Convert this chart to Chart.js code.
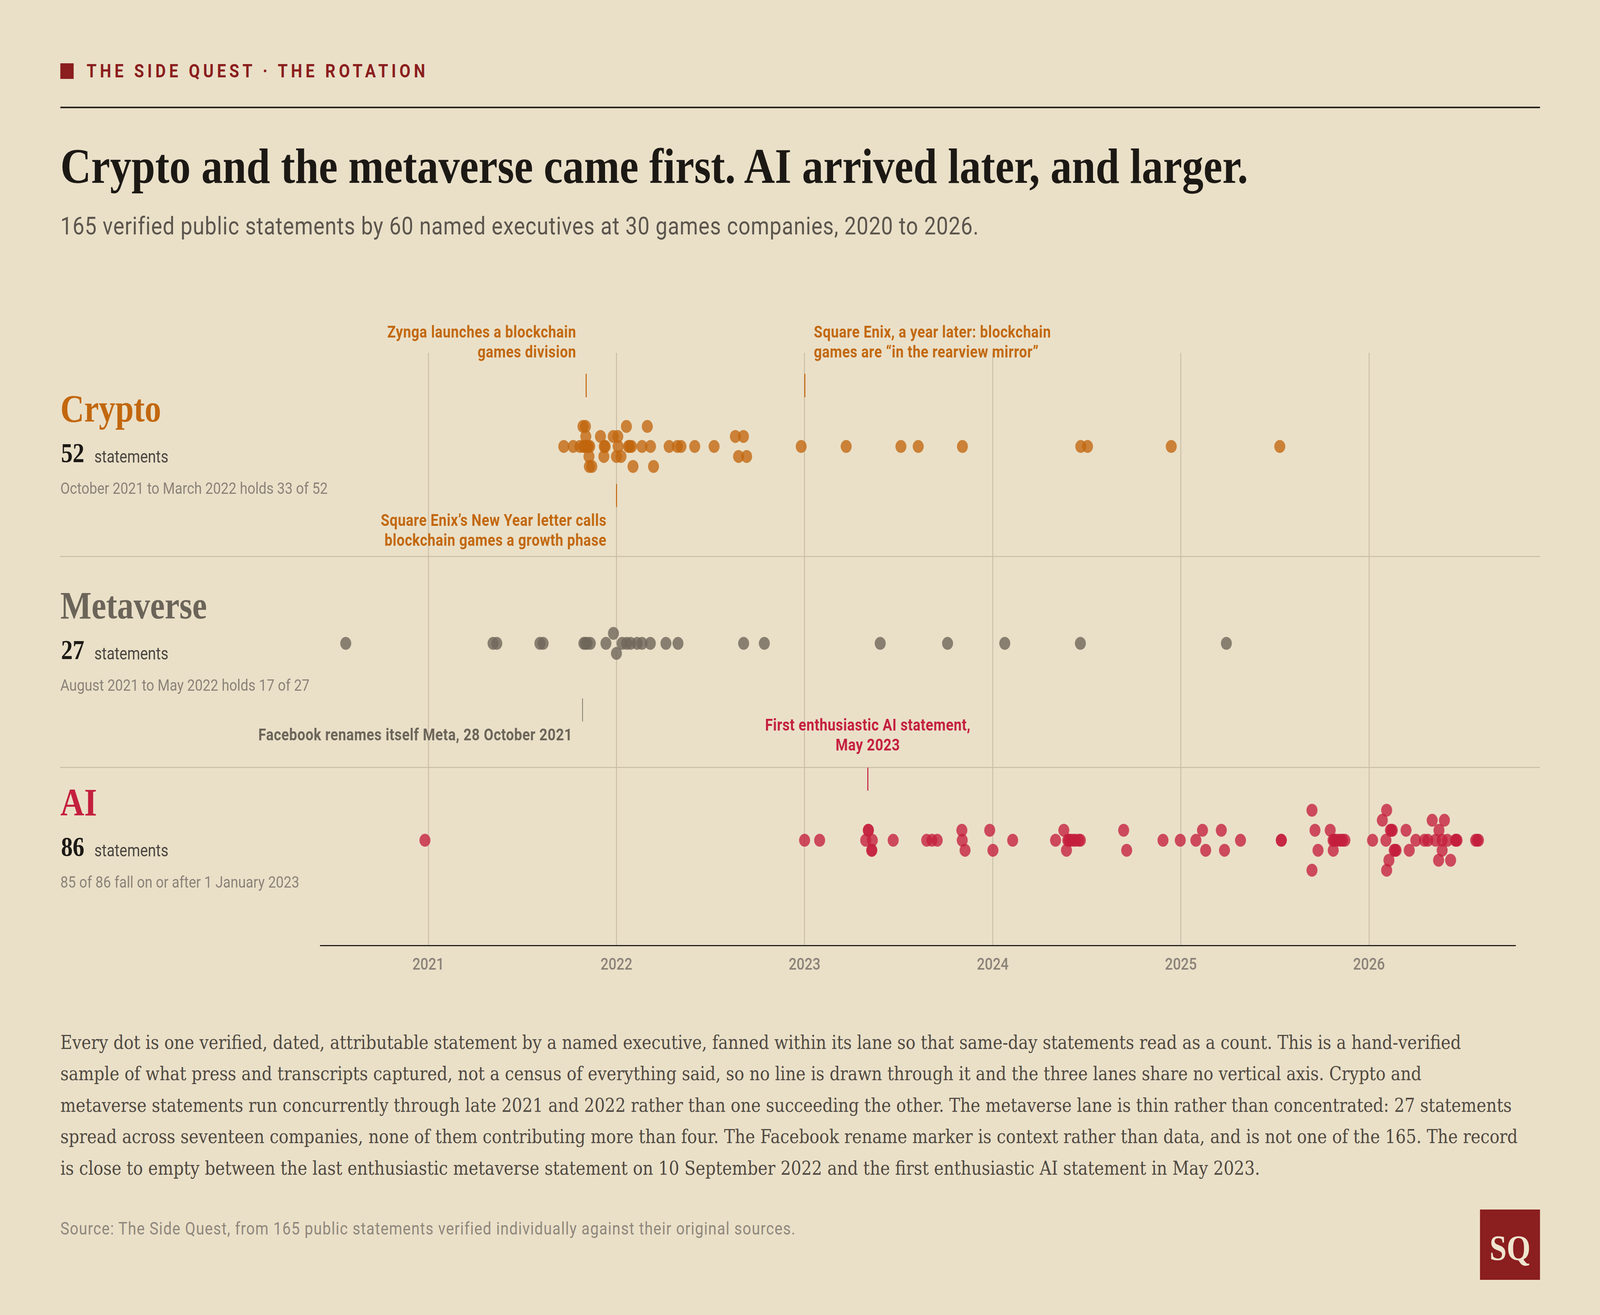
<!DOCTYPE html>
<html>
<head>
<meta charset="utf-8">
<script src="https://cdn.jsdelivr.net/npm/chart.js@4.4.1/dist/chart.umd.min.js"></script>
<style>
  html, body { margin: 0; padding: 0; overflow: hidden; background: #eae0c8; }
  #page { position: absolute; left: 0; top: 0; width: 4800px; height: 3366px; background: #eae0c8; transform-origin: 0 0; }
  .t { position: absolute; white-space: nowrap; line-height: 1; }
  .serif { font-family: "Liberation Serif", "DejaVu Serif", serif; }
  .body { font-family: "DejaVu Serif", "Liberation Serif", serif; }
  .sans { font-family: Roboto, "Liberation Sans", sans-serif; }
  #chart { position: absolute; left: 0; top: 780px; width: 4800px; height: 1760px; }
  #logo { position: absolute; left: 4440px; top: 3096px; width: 180px; height: 180px; background: #8b1e1e; }
  #mark { position: absolute; left: 181px; top: 162px; width: 40px; height: 40px; background: #8b1e1e; }
  #rule { position: absolute; left: 181px; top: 273px; width: 4439px; height: 4px; background: #27231e; }
</style>
</head>
<body>
<div id="page">
  <div id="mark"></div>
  <div id="rule"></div>
  <canvas id="chart" width="4800" height="1760"></canvas>
  <div id="logo"></div>
</div>

<script>
// ---- data: decimal year of each statement, and its fan slot within the lane ----
const cryptoDates = [2021.720, 2021.770, 2021.806, 2021.822, 2021.825, 2021.830, 2021.835, 2021.837, 2021.837, 2021.840,
  2021.846, 2021.850, 2021.854, 2021.856, 2021.858, 2021.869, 2021.915, 2021.933, 2021.935, 2021.940,
  2021.983, 2022.000, 2022.007, 2022.009, 2022.024, 2022.053, 2022.064, 2022.070, 2022.080, 2022.088,
  2022.136, 2022.164, 2022.181, 2022.197, 2022.280, 2022.324, 2022.343, 2022.416, 2022.519, 2022.632,
  2022.649, 2022.675, 2022.692, 2022.982, 2023.221, 2023.512, 2023.604, 2023.839, 2024.468, 2024.504,
  2024.949, 2025.526];
const cryptoFan = [0, 0, 0, 2, 0, 0, 2, 0, 1, 0,
  0, 0, -1, -2, 0, -2, 1, -1, 0, 0,
  1, -1, 1, 0, -1, 2, 0, 0, 0, -2,
  0, 2, 0, -2, 0, 0, 0, 0, 0, 1,
  -1, 1, -1, 0, 0, 0, 0, 0, 0, 0,
  0, 0];

const metaDates = [2020.561, 2021.344, 2021.364, 2021.593, 2021.610, 2021.827, 2021.835, 2021.844, 2021.861, 2021.944,
  2021.984, 2022.000, 2022.030, 2022.054, 2022.075, 2022.110, 2022.136, 2022.180, 2022.263, 2022.327,
  2022.676, 2022.786, 2023.402, 2023.760, 2024.064, 2024.466, 2025.242];
const metaFan = [0, 0, 0, 0, 0, 0, 0, 0, 0, 0,
  1, -1, 0, 0, 0, 0, 0, 0, 0, 0,
  0, 0, 0, 0, 0, 0, 0];

const aiDates = [2020.982, 2023.000, 2023.080, 2023.325, 2023.339, 2023.339, 2023.357, 2023.357, 2023.360, 2023.471,
  2023.649, 2023.677, 2023.705, 2023.836, 2023.838, 2023.853, 2023.984, 2024.001, 2024.106, 2024.334,
  2024.378, 2024.392, 2024.399, 2024.405, 2024.412, 2024.427, 2024.440, 2024.458, 2024.466, 2024.696,
  2024.712, 2024.905, 2024.997, 2025.080, 2025.115, 2025.132, 2025.215, 2025.232, 2025.317, 2025.534,
  2025.534, 2025.697, 2025.697, 2025.713, 2025.729, 2025.794, 2025.809, 2025.810, 2025.815, 2025.821,
  2025.835, 2025.850, 2025.860, 2025.872, 2026.019, 2026.071, 2026.090, 2026.094, 2026.094, 2026.106,
  2026.114, 2026.119, 2026.124, 2026.134, 2026.139, 2026.144, 2026.197, 2026.214, 2026.249, 2026.295,
  2026.313, 2026.336, 2026.354, 2026.370, 2026.372, 2026.389, 2026.389, 2026.401, 2026.417, 2026.434,
  2026.460, 2026.463, 2026.468, 2026.567, 2026.575, 2026.582];
const aiFan = [0, 0, 0, 0, 1, 1, -1, -1, 0, 0,
  0, 0, 0, 1, 0, -1, 1, -1, 0, 0,
  1, -1, 0, 0, 0, 0, 0, 0, 0, 1,
  -1, 0, 0, 0, 1, -1, 1, -1, 0, 0,
  0, 3, -3, 1, -1, 1, 0, -1, 0, 0,
  0, 0, 0, 0, 0, 2, 0, 3, -3, -2,
  1, 1, 1, -1, -1, -1, 1, -1, 0, 0,
  0, 2, 0, -2, 1, 0, -1, 2, 0, -2,
  0, 0, 0, 0, 0, 0];

const yearTicks = [2021, 2022, 2023, 2024, 2025, 2026];

const laneNames = ['Crypto', 'Metaverse', 'AI'];
const laneCounts = [52, 27, 86];
const laneNotes = ['October 2021 to March 2022 holds 33 of 52',
  'August 2021 to May 2022 holds 17 of 27',
  '85 of 86 fall on or after 1 January 2023'];

// context markers (the Facebook one is not a statement)
const annotations = [
  { lane: 0, date: 2021.839, text: ['Zynga launches a blockchain', 'games division'], align: 'right', tick: [-186, -126], textY: -279 },
  { lane: 0, date: 2023.0, text: ['Square Enix, a year later: blockchain', 'games are \u201cin the rearview mirror\u201d'], align: 'left', tick: [-186, -126], textY: -279 },
  { lane: 0, date: 2022.0, text: ['Square Enix\u2019s New Year letter calls', 'blockchain games a growth phase'], align: 'right', tick: [96, 155], textY: 203 },
  { lane: 1, date: 2021.819, text: ['Facebook renames itself Meta, 28 October 2021'], align: 'right', tick: [141, 200], textY: 248 },
  { lane: 2, date: 2023.336, text: ['First enthusiastic AI statement,', 'May 2023'], align: 'center', tick: [-186, -127], textY: -281 }
];

// ---- layout / style ----
const laneColors = ['#c2670e', '#6b6459', '#c41f3e'];
const dotColors = ['rgba(194,103,14,0.78)', 'rgba(111,102,90,0.8)', 'rgba(196,31,62,0.78)'];
const laneValue = [3, 2, 1];
const FAN_STEP = 25.6 / 504;
const laneDividers = [2.443, 1.371];
const CANVAS_TOP = 780;

// the design is 4800 x 3366; stretch it onto whatever frame the page really gets
const page = document.getElementById('page');
const sx = (window.innerWidth || 4800) / 4800;
const sy = (window.innerHeight || 3366) / 3366;
page.style.transform = 'scale(' + sx + ',' + sy + ')';
document.body.style.width = (4800 * sx) + 'px';
document.body.style.height = (3366 * sy) + 'px';

function toPoints(dates, fan, lane) {
  return dates.map((d, i) => ({ x: d, y: laneValue[lane] + fan[i] * FAN_STEP }));
}

const laneDecor = {
  id: 'laneDecor',
  beforeDatasetsDraw(chart) {
    const { ctx, scales: { y } } = chart;
    ctx.save();
    ctx.strokeStyle = '#c9bda5';
    ctx.lineWidth = 2.5;
    laneDividers.forEach(v => {
      const py = Math.round(y.getPixelForValue(v)) + 0.5;
      ctx.beginPath(); ctx.moveTo(180, py); ctx.lineTo(4620, py); ctx.stroke();
    });
    ctx.restore();
  },
  afterDatasetsDraw(chart) {
    const { ctx, scales: { x, y } } = chart;
    ctx.save();
    annotations.forEach(a => {
      const px = Math.round(x.getPixelForValue(a.date)) + 0.5;
      const cy = y.getPixelForValue(laneValue[a.lane]);
      const col = laneColors[a.lane];
      ctx.strokeStyle = col;
      ctx.lineWidth = a.lane === 1 ? 2 : 3;
      ctx.beginPath(); ctx.moveTo(px, cy + a.tick[0]); ctx.lineTo(px, cy + a.tick[1]); ctx.stroke();
      ctx.fillStyle = col;
      ctx.font = '700 42px Roboto';
      ctx.letterSpacing = '0.8px';
      ctx.textAlign = a.align;
      ctx.textBaseline = 'alphabetic';
      const tx = a.align === 'right' ? px - 30 : a.align === 'left' ? px + 27 : px;
      a.text.forEach((line, i) => ctx.fillText(line, tx, cy + a.textY + i * 51));
    });
    ctx.restore();
  }
};

Chart.defaults.font.family = 'Roboto';

const chart = new Chart(document.getElementById('chart'), {
  type: 'scatter',
  data: {
    datasets: [
      { label: laneNames[0], data: toPoints(cryptoDates, cryptoFan, 0), backgroundColor: dotColors[0] },
      { label: laneNames[1], data: toPoints(metaDates, metaFan, 1), backgroundColor: dotColors[1] },
      { label: laneNames[2], data: toPoints(aiDates, aiFan, 2), backgroundColor: dotColors[2] }
    ].map(ds => Object.assign(ds, { pointRadius: 16.5, pointBorderWidth: 0, pointHoverRadius: 16.5 }))
  },
  options: {
    responsive: false,
    devicePixelRatio: (window.devicePixelRatio || 1) * Math.max(sx, sy),
    animation: false,
    events: [],
    layout: { padding: { left: 961, right: 254, top: 123, bottom: 20 } },
    plugins: { legend: { display: false }, tooltip: { enabled: false } },
    scales: {
      x: {
        type: 'linear',
        min: 2020.426,
        max: 2026.778,
        afterBuildTicks: s => { s.ticks = yearTicks.map(v => ({ value: v })); },
        afterFit: s => { s.height = 100; },
        grid: { color: '#c6baa2', lineWidth: 2.5, drawTicks: false },
        border: { display: true, color: '#25211c', width: 3 },
        ticks: {
          padding: 26,
          color: '#8a8278',
          font: { size: 42, weight: '500' },
          callback: v => String(v)
        }
      },
      y: { display: false, min: 0.4659, max: 3.4758 }
    }
  },
  plugins: [laneDecor]
});

// ---- text, placed by baseline ----
function addText(str, x, baseline, size, opts) {
  const el = document.createElement('div');
  el.className = 't ' + (opts.font || 'sans');
  el.textContent = str;
  el.style.left = x + 'px';
  el.style.top = (baseline - 0.84 * size) + 'px';
  el.style.fontSize = size + 'px';
  el.style.fontWeight = opts.weight || 400;
  el.style.color = opts.color;
  if (opts.spacing) el.style.letterSpacing = opts.spacing;
  if (opts.align === 'center') { el.style.transform = 'translateX(-50%)'; }
  page.appendChild(el);
  return el;
}

addText('THE SIDE QUEST \u00b7 THE ROTATION', 260, 198, 48, { weight: 700, color: '#8b1e1e', spacing: '10px' });
addText('Crypto and the metaverse came first. AI arrived later, and larger.', 181, 469, 128, { font: 'serif', weight: 700, color: '#1c1915' });
addText('165 verified public statements by 60 named executives at 30 games companies, 2020 to 2026.', 181, 600, 63, { color: '#5b554d', spacing: '1.3px' });

laneNames.forEach((name, i) => {
  const cy = chart.scales.y.getPixelForValue(laneValue[i]) + CANVAS_TOP;
  addText(name, 181, cy - 64, 99, { font: 'serif', weight: 700, color: laneColors[i] });
  addText(String(laneCounts[i]), 183, cy + 41, 70, { font: 'serif', weight: 700, color: '#1c1915' });
  addText('statements', 283, cy + 41, 44, { color: '#4a4540' });
  addText(laneNotes[i], 181, cy + 121, 41.5, { color: '#8a8278' });
});

const bodyLines = [
  'Every dot is one verified, dated, attributable statement by a named executive, fanned within its lane so that same-day statements read as a count. This is a hand-verified',
  'sample of what press and transcripts captured, not a census of everything said, so no line is drawn through it and the three lanes share no vertical axis. Crypto and',
  'metaverse statements run concurrently through late 2021 and 2022 rather than one succeeding the other. The metaverse lane is thin rather than concentrated: 27 statements',
  'spread across seventeen companies, none of them contributing more than four. The Facebook rename marker is context rather than data, and is not one of the 165. The record',
  'is close to empty between the last enthusiastic metaverse statement on 10 September 2022 and the first enthusiastic AI statement in May 2023.'
];
bodyLines.forEach((line, i) => addText(line, 181, 2685 + i * 80.5, 49, { font: 'body', color: '#4f4942' }));

addText('Source: The Side Quest, from 165 public statements verified individually against their original sources.', 181, 3160, 45, { color: '#8f877c', spacing: '1.7px' });
addText('SQ', 4530, 3225, 92, { font: 'serif', weight: 700, color: '#efe5cf', align: 'center' });
</script>
</body>
</html>
